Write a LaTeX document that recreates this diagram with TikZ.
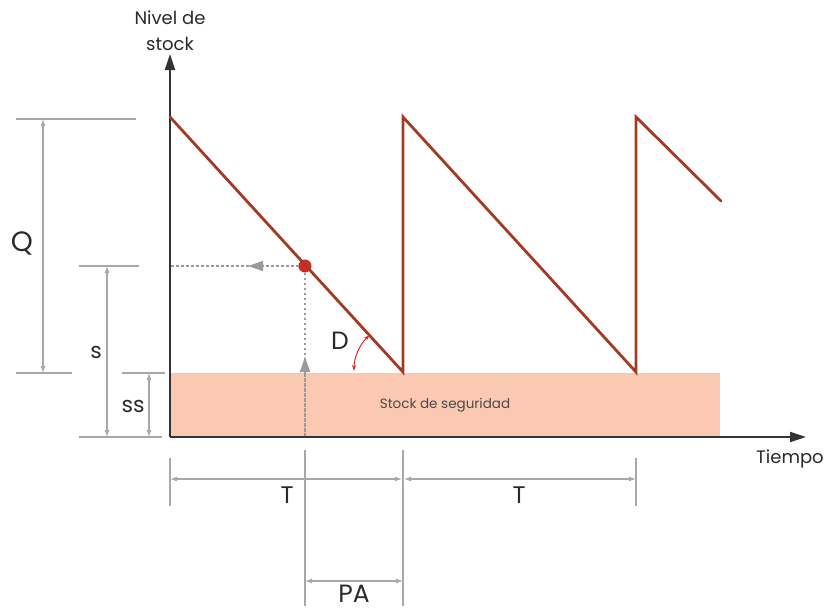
\documentclass[tikz,border=0pt]{standalone}
\usepackage{fontspec}
\setmainfont{Poppins}
\usetikzlibrary{arrows.meta}
\definecolor{sawc}{HTML}{A23B24}
\definecolor{ssfill}{HTML}{FBC9B1}
\definecolor{dimc}{HTML}{A8A8A8}
\definecolor{guidec}{HTML}{9A9A9A}
\definecolor{axisc}{HTML}{333333}
\definecolor{dotred}{HTML}{E32227}
\definecolor{arcred}{HTML}{E5262B}
\definecolor{txt}{HTML}{2A2A2A}
\tikzset{
  dimline/.style={draw=dimc, line width=1.1pt},
  dimarrow/.style={dimline, {Latex[length=7pt,width=5pt]}-{Latex[length=7pt,width=5pt]}},
  guide/.style={draw=guidec, line width=1.5pt, dash pattern=on 2.5pt off 2.5pt},
  guidetip/.style={guide, -{Triangle[length=15pt,width=10pt]}},
  axisline/.style={draw=axisc, line width=2.2pt, -{Triangle[length=16pt,width=10pt]}},
  sawline/.style={draw=sawc, line width=2.8pt, line join=miter, line cap=round},
  lbl/.style={text=txt, inner sep=0pt, font=\fontsize{22}{22}\selectfont},
  biglbl/.style={text=txt, inner sep=0pt, font=\fontsize{28}{28}\selectfont},
  axlbl/.style={text=txt, inner sep=0pt, font=\fontsize{18}{26}\selectfont, align=center},
  small/.style={text=txt!85, inner sep=0pt, font=\fontsize{13.5}{14}\selectfont}
}
\begin{document}
\begin{tikzpicture}[x=1pt,y=-1pt]
\useasboundingbox (0,0) rectangle (834,611);
% safety stock band
\fill[ssfill] (170,373) rectangle (720,437);
\node[small] (sslbl) at (445,405) {Stock de seguridad};
% guide lines
\coordinate (O) at (170,437);
\coordinate (yl) at (170,266);
\coordinate (xl) at (305,437);
\coordinate (ptip) at (248,266);
\coordinate (utip) at (305,357);
\node[circle, fill=dotred, draw=sawc, line width=1pt, minimum size=12pt, inner sep=0pt] (dot) at (305,266) {};
\draw[guide] (dot) -- (yl);
\draw[guidetip] (dot.west) -- (ptip);
\draw[guide] (dot) -- (xl);
\draw[guidetip] (xl) -- (utip);
% axes
\coordinate (ytop) at (170,54);
\coordinate (xend) at (806,437);
\draw[axisline] (O) -- (ytop);
\draw[axisline] (O) -- (xend);
\node[axlbl] (ylbl) at (170,31) {Nivel de\\stock};
\node[axlbl, anchor=west] (xlbl) at (756,459) {Tiempo};
% sawtooth
\coordinate (s0) at (170,117);
\coordinate (s1) at (403,372);
\coordinate (s2) at (403,117);
\coordinate (s3) at (636,372);
\coordinate (s4) at (636,117);
\coordinate (s5) at (721,201);
\draw[sawline] (s0) -- (s1) -- (s2) -- (s3) -- (s4) -- (s5);
% D arc
\coordinate (darcs) at (354,371);
\draw[draw=arcred, line width=1pt, {Stealth[length=6pt,width=4pt]}-{Stealth[length=6pt,width=4pt]}] (darcs) arc[start angle=180, end angle=227, radius=49];
\node[lbl, font=\fontsize{25}{25}\selectfont] (dlbl) at (340,341) {D};
% Q dimension
\coordinate (qa1) at (16,119); \coordinate (qa2) at (136,119);
\coordinate (qb1) at (16,373); \coordinate (qb2) at (72,373);
\coordinate (qt) at (43,119); \coordinate (qbt) at (43,373);
\draw[dimline] (qa1) -- (qa2);
\draw[dimline] (qb1) -- (qb2);
\draw[dimarrow] (qt) -- (qbt);
\node[biglbl] (qlbl) at (22,243) {Q};
% s dimension
\coordinate (sa1) at (79,266); \coordinate (sa2) at (139,266);
\coordinate (sb1) at (79,437); \coordinate (sb2) at (162,437);
\coordinate (st) at (107,266); \coordinate (sbt) at (107,437);
\draw[dimline] (sa1) -- (sa2);
\draw[dimline] (sb1) -- (sb2);
\draw[dimarrow] (st) -- (sbt);
\node[lbl] (slbl) at (96,352) {s};
% ss dimension
\coordinate (ssa1) at (122,373); \coordinate (ssa2) at (165,373);
\coordinate (sst) at (149,373); \coordinate (ssbt) at (149,437);
\draw[dimline] (ssa1) -- (ssa2);
\draw[dimarrow] (sst) -- (ssbt);
\node[lbl] (sslbl2) at (133,406) {ss};
% time dimensions
\coordinate (e1a) at (170,458); \coordinate (e1b) at (170,506);
\coordinate (e2a) at (403,450); \coordinate (e2b) at (403,606);
\coordinate (e3a) at (636,458); \coordinate (e3b) at (636,506);
\coordinate (e4a) at (305,450); \coordinate (e4b) at (305,606);
\draw[dimline] (e1a) -- (e1b);
\draw[dimline] (e2a) -- (e2b);
\draw[dimline] (e3a) -- (e3b);
\draw[dimline] (e4a) -- (e4b);
\coordinate (t1a) at (170,479); \coordinate (t1b) at (403,479);
\coordinate (t2a) at (403,479); \coordinate (t2b) at (636,479);
\coordinate (pa1) at (305,581); \coordinate (pa2) at (403,581);
\draw[dimarrow] (t1a) -- ([xshift=-1pt]t1b);
\draw[dimarrow] ([xshift=1pt]t2a) -- (t2b);
\draw[dimarrow] (pa1) -- (pa2);
\node[lbl, font=\fontsize{24}{24}\selectfont] (tlbl1) at (287,495) {T};
\node[lbl, font=\fontsize{24}{24}\selectfont] (tlbl2) at (519,495) {T};
\node[lbl, font=\fontsize{25}{25}\selectfont] (palbl) at (354,594) {PA};
\end{tikzpicture}
\end{document}
